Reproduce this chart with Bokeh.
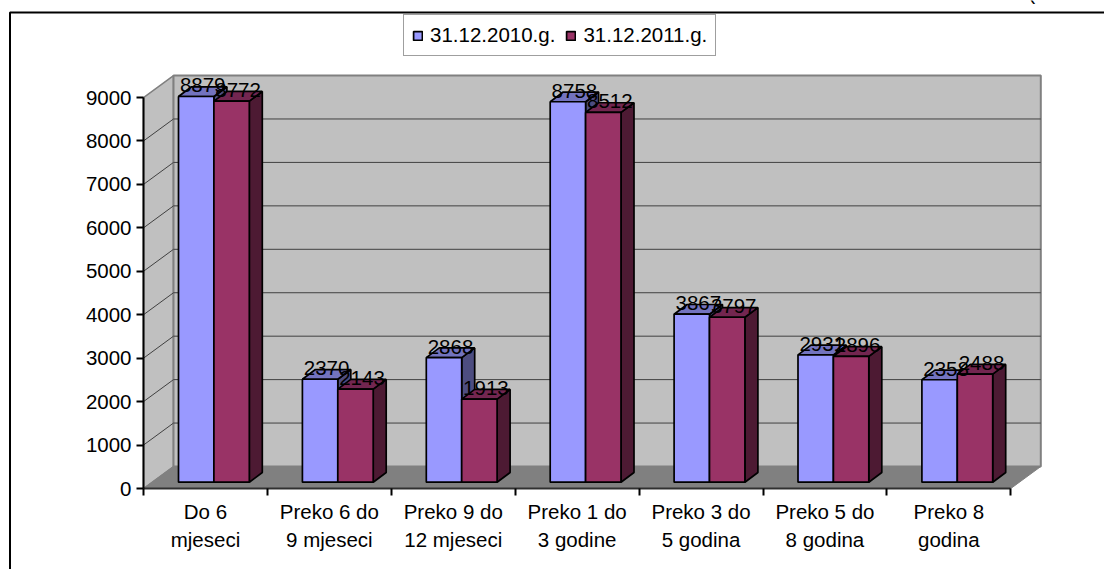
from bokeh.plotting import figure, ColumnDataSource
from bokeh.models import (LinearAxis, FixedTicker, Range1d, Legend, LegendItem,
                          BoxAnnotation, Label)
from bokeh.core.properties import value
from bokeh.embed import file_html
from bokeh.resources import INLINE

categories = ["Do 6\nmjeseci", "Preko 6 do\n9 mjeseci", "Preko 9 do\n12 mjeseci",
              "Preko 1 do\n3 godine", "Preko 3 do\n5 godina", "Preko 5 do\n8 godina",
              "Preko 8\ngodina"]
series_names = ["31.12.2010.g.", "31.12.2011.g."]
values_2010 = [8879, 2370, 2868, 8758, 3867, 2931, 2358]
values_2011 = [8772, 2143, 1913, 8512, 3797, 2896, 2488]
y_ticks = [0, 1000, 2000, 3000, 4000, 5000, 6000, 7000, 8000, 9000]

FONT = "Liberation Sans"
W, H = 1104, 569
ORG_X, ORG_Y = 143, 488
PX_X = 123.9
PX_Y = 0.04344
WALL_DX, WALL_DY = 30 / PX_X, 22 / PX_Y
BAR_DX, BAR_DY = 13 / PX_X, 9.7 / PX_Y
BAR_X0, BAR_W = 35 / PX_X, 35.4 / PX_X
BAR_BASE = 6.3 / PX_Y
n = len(categories)

p = figure(width=W, height=H, output_backend="svg", toolbar_location=None,
           x_axis_type=None, y_axis_type=None,
           x_range=Range1d(-ORG_X / PX_X, (W - ORG_X) / PX_X),
           y_range=Range1d(-(H - ORG_Y) / PX_Y, ORG_Y / PX_Y),
           min_border=0, outline_line_color=None)

# chart walls and floor
top = y_ticks[-1]
p.patch([0, WALL_DX, WALL_DX, 0], [0, WALL_DY, top + WALL_DY, top],
        fill_color="#C0C0C0", line_color="#808080", line_width=1.5)
p.patch([WALL_DX, n + WALL_DX, n + WALL_DX, WALL_DX],
        [WALL_DY, WALL_DY, top + WALL_DY, top + WALL_DY],
        fill_color="#C0C0C0", line_color="#808080", line_width=2)
p.patch([0, n, n + WALL_DX, WALL_DX], [0, 0, WALL_DY, WALL_DY],
        fill_color="#808080", line_color="#808080")
for v in y_ticks[1:-1]:
    p.line([0, WALL_DX, n + WALL_DX], [v, v + WALL_DY, v + WALL_DY],
           line_color="#404040", line_width=1)


def faces(vals, offset, front, top_c, side):
    xs_side, ys_side, xs_top, ys_top, left, right, tops = [], [], [], [], [], [], []
    for i, v in enumerate(vals):
        x0 = i + BAR_X0 + offset * BAR_W
        x1 = x0 + BAR_W
        y1 = BAR_BASE + v
        left.append(x0)
        right.append(x1)
        tops.append(y1)
        xs_side.append([x1, x1 + BAR_DX, x1 + BAR_DX, x1])
        ys_side.append([BAR_BASE, BAR_BASE + BAR_DY, y1 + BAR_DY, y1])
        xs_top.append([x0, x1, x1 + BAR_DX, x0 + BAR_DX])
        ys_top.append([y1, y1, y1 + BAR_DY, y1 + BAR_DY])
    p.patches(xs_side, ys_side, fill_color=side, line_color="black", line_width=1.7)
    p.patches(xs_top, ys_top, fill_color=top_c, line_color="black", line_width=1.7)
    r = p.quad(left=left, right=right, bottom=BAR_BASE, top=tops,
               fill_color=front, line_color="black", line_width=1.7)
    return r, left, tops


r_a, left_a, tops_a = faces(values_2010, 0, "#9999FF", "#7373BF", "#4D4D80")
r_b, left_b, tops_b = faces(values_2011, 1, "#993366", "#732650", "#4D1A33")

lab = ColumnDataSource(dict(
    x=[x + (BAR_W + BAR_DX) / 2 for x in left_a + left_b],
    y=tops_a + tops_b,
    t=[str(v) for v in values_2010 + values_2011]))
p.text("x", "y", text="t", source=lab, text_align="center", text_baseline="bottom",
       y_offset=-4, text_font=value(FONT), text_font_size="20.5px", text_color="black")

# axes
yax = LinearAxis(ticker=FixedTicker(ticks=y_ticks), bounds=(0, top), fixed_location=0,
                 major_tick_out=7, major_tick_in=0, minor_tick_out=0, minor_tick_in=0,
                 major_label_standoff=5, major_label_text_font=FONT,
                 major_label_text_font_size="20.5px", major_label_text_color="black",
                 axis_line_color="black", axis_line_width=2,
                 major_tick_line_color="black", major_tick_line_width=2)
p.add_layout(yax, "left")
xax = LinearAxis(ticker=FixedTicker(ticks=[i + 0.5 for i in range(n)],
                                    minor_ticks=list(range(n + 1))),
                 bounds=(0, n), fixed_location=0,
                 major_label_overrides={i + 0.5: c for i, c in enumerate(categories)},
                 major_tick_out=0, major_tick_in=0, minor_tick_out=7, minor_tick_in=0,
                 major_label_standoff=4, major_label_text_font=FONT,
                 major_label_text_font_size="20.5px", major_label_text_color="black",
                 major_label_text_line_height=1.26,
                 axis_line_color="#303030", axis_line_width=2,
                 minor_tick_line_color="black", minor_tick_line_width=2)
p.add_layout(xax, "below")

legend = Legend(items=[LegendItem(label=series_names[0], renderers=[r_a]),
                       LegendItem(label=series_names[1], renderers=[r_b])],
                orientation="horizontal", location=(403, 513),
                glyph_width=11, glyph_height=11, label_text_font=FONT,
                label_text_font_size="20.5px", label_text_color="black",
                label_standoff=7, spacing=10, padding=8, margin=0,
                border_line_color="#404040", border_line_width=1.5,
                background_fill_color="white", background_fill_alpha=1)
p.add_layout(legend, "center")

# outer chart border, open towards the right and bottom
p.add_layout(BoxAnnotation(left=9.5, right=1400, top=12, bottom=900,
                           left_units="canvas", right_units="canvas",
                           top_units="canvas", bottom_units="canvas",
                           fill_alpha=0, line_color="black", line_alpha=1,
                           line_width=2, level="overlay"))
p.add_layout(Label(x=1028, y=566, x_units="screen", y_units="screen", text="(",
                   text_font=FONT, text_font_size="20px", text_color="black"))

open("out.html", "w").write(file_html(p, INLINE))
